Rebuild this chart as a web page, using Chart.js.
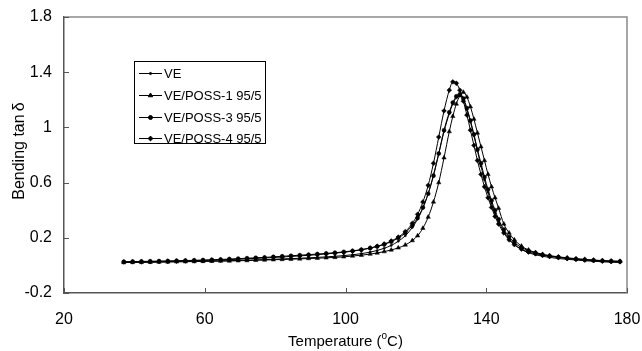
<!DOCTYPE html>
<html>
<head>
<meta charset="utf-8">
<script src="https://cdn.jsdelivr.net/npm/chart.js@4/dist/chart.umd.min.js"></script>
<style>
html,body{margin:0;padding:0;background:#fff;}
#wrap{position:relative;width:642px;height:351px;}
</style>
</head>
<body>
<div id="wrap"><canvas id="c" width="642" height="351"></canvas></div>
<script>
// ---- data ----
const temps = [37,39.5,42,44.5,47,49.5,52,54.5,57,59.5,62,64.5,67,69.5,72,74.5,77,79.5,82,84.5,87,89.5,92,94.5,97,99.5,102,104.5,107,109,111,113,115,117,119,120.5,122,123.5,125,126.5,128,129.5,130.5,131.5,132.5,133.5,134.5,135.5,136.5,137.5,138.5,139.5,140.5,141.5,142.5,143.5,145,146.5,148,150,152,154,156,158,160.5,163,165.5,168,170.5,173,175.5,178];

const seriesNames = ["VE","VE/POSS-1 95/5","VE/POSS-3 95/5","VE/POSS-4 95/5"];

const veVals = [.022,.023,.023,.024,.025,.026,.027,.028,.029,.030,.031,.033,.034,.036,.038,.040,.042,.044,.047,.049,.052,.055,.058,.062,.066,.071,.077,.085,.096,.108,.124,.145,.175,.215,.275,.335,.415,.52,.655,.81,.97,1.10,1.17,1.215,1.23,1.20,1.13,1.04,.94,.83,.72,.62,.53,.45,.38,.32,.245,.19,.15,.115,.092,.077,.066,.058,.050,.044,.039,.034,.030,.026,.023,.021];

const poss1Vals = [.021,.022,.022,.023,.024,.025,.026,.027,.028,.029,.030,.031,.032,.034,.035,.037,.039,.041,.043,.045,.047,.050,.052,.055,.058,.062,.068,.074,.082,.090,.100,.112,.127,.148,.180,.215,.270,.350,.460,.600,.780,.970,1.08,1.17,1.23,1.255,1.22,1.15,1.06,.96,.86,.76,.66,.57,.49,.415,.30,.235,.185,.14,.112,.094,.080,.071,.062,.055,.049,.044,.039,.035,.032,.030];

const poss3Vals = [.027,.028,.029,.030,.031,.032,.034,.035,.037,.039,.041,.043,.046,.049,.052,.055,.058,.062,.066,.070,.074,.078,.082,.087,.092,.098,.105,.114,.125,.137,.152,.172,.198,.235,.29,.345,.42,.52,.65,.81,.98,1.11,1.18,1.225,1.24,1.21,1.14,1.05,.95,.84,.74,.64,.55,.47,.40,.335,.26,.205,.165,.13,.107,.09,.078,.068,.060,.052,.046,.041,.037,.034,.031,.029];

const poss4Vals = [.025,.026,.027,.028,.029,.030,.031,.033,.034,.036,.038,.040,.042,.045,.048,.051,.054,.057,.061,.065,.069,.073,.078,.083,.089,.095,.103,.113,.126,.139,.155,.177,.205,.245,.305,.37,.46,.58,.74,.93,1.12,1.27,1.33,1.32,1.27,1.19,1.09,.98,.87,.76,.66,.57,.49,.42,.355,.30,.235,.185,.15,.118,.097,.085,.075,.066,.058,.050,.044,.039,.035,.031,.028,.026];

const xTickVals = [20,60,100,140,180];
const xTickLabels = ["20","60","100","140","180"];
const yTickVals = [-0.2,0.2,0.6,1.0,1.4,1.8];
const yTickLabels = ["-0.2","0.2","0.6","1","1.4","1.8"];

const xTitleMain = "Temperature (";
const xTitleSup = "o";
const xTitleEnd = "C)";
const yTitle = "Bending tan\u2009\u03b4";

// ---- styles ----
const FONT = '"Liberation Sans", Arial, sans-serif';
const TICK_SIZE = 16, XTITLE_SIZE = 15, YTITLE_SIZE = 16, LEG_SIZE = 13;
const markerStyles = [
  {pointStyle:'circle', radius:1.1},
  {pointStyle:'triangle', radius:2.5},
  {pointStyle:'circle', radius:2.0},
  {pointStyle:'rectRot', radius:2.4}
];
const allVals = [veVals, poss1Vals, poss3Vals, poss4Vals];

const datasets = allVals.map((vals, i) => ({
  label: seriesNames[i],
  data: temps.map((t, k) => ({x: t, y: vals[k]})),
  borderColor: '#000',
  backgroundColor: '#000',
  borderWidth: 1,
  pointStyle: markerStyles[i].pointStyle,
  pointRadius: markerStyles[i].radius,
  pointBorderWidth: 0.5,
  pointBorderColor: '#000',
  pointBackgroundColor: '#000',
  cubicInterpolationMode: 'monotone',
  fill: false
}));

const decorPlugin = {
  id: 'decor',
  afterDraw(chart) {
    const ctx = chart.ctx;
    const ca = chart.chartArea;
    const xs = chart.scales.x, ys = chart.scales.y;
    ctx.save();
    // top & right frame
    ctx.strokeStyle = '#8a8a8a';
    ctx.lineWidth = 1.5;
    ctx.beginPath();
    ctx.moveTo(ca.left, ca.top);
    ctx.lineTo(ca.right, ca.top);
    ctx.lineTo(ca.right, ca.bottom);
    ctx.stroke();
    // inward ticks
    ctx.strokeStyle = '#555';
    ctx.lineWidth = 1;
    ctx.beginPath();
    yTickVals.forEach(v => {
      const p = Math.round(ys.getPixelForValue(v)) + 0.5;
      ctx.moveTo(ca.left, p); ctx.lineTo(ca.left + 5, p);
    });
    xTickVals.forEach(v => {
      const p = Math.round(xs.getPixelForValue(v)) + 0.5;
      ctx.moveTo(p, ca.bottom); ctx.lineTo(p, ca.bottom - 5);
    });
    ctx.stroke();

    // axis titles
    ctx.fillStyle = '#000';
    ctx.font = XTITLE_SIZE + 'px ' + FONT;
    ctx.textBaseline = 'alphabetic';
    const w1 = ctx.measureText(xTitleMain).width;
    ctx.font = '10px ' + FONT;
    const w2 = ctx.measureText(xTitleSup).width;
    ctx.font = XTITLE_SIZE + 'px ' + FONT;
    const w3 = ctx.measureText(xTitleEnd).width;
    const cx = (ca.left + ca.right) / 2;
    let x0 = cx - (w1 + w2 + w3) / 2;
    const by = 346;
    ctx.textAlign = 'left';
    ctx.fillText(xTitleMain, x0, by);
    ctx.font = '10px ' + FONT;
    ctx.fillText(xTitleSup, x0 + w1, by - 7);
    ctx.font = XTITLE_SIZE + 'px ' + FONT;
    ctx.fillText(xTitleEnd, x0 + w1 + w2, by);

    ctx.save();
    ctx.translate(24, 151);
    ctx.rotate(-Math.PI / 2);
    ctx.textAlign = 'center';
    ctx.font = YTITLE_SIZE + 'px ' + FONT;
    ctx.fillText(yTitle, 0, 0);
    ctx.restore();

    // legend
    const lx = 134.5, ly = 61.5, lw = 131, lh = 82;
    ctx.fillStyle = '#fff';
    ctx.fillRect(lx, ly, lw, lh);
    ctx.strokeStyle = '#000';
    ctx.lineWidth = 1;
    ctx.strokeRect(lx, ly, lw, lh);
    const rows = [73, 95, 117, 138];
    rows.forEach((ry, i) => {
      ctx.strokeStyle = '#000';
      ctx.lineWidth = 1;
      ctx.beginPath();
      ctx.moveTo(139, ry + 0.5); ctx.lineTo(162, ry + 0.5);
      ctx.stroke();
      ctx.fillStyle = '#000';
      Chart.helpers.drawPoint(ctx, {
        pointStyle: markerStyles[i].pointStyle,
        radius: markerStyles[i].radius,
        borderWidth: 0.5,
        rotation: 0
      }, 150.5, ry + 0.5);
      ctx.fillStyle = '#000';
      ctx.font = LEG_SIZE + 'px ' + FONT;
      ctx.textAlign = 'left';
      ctx.textBaseline = 'middle';
      ctx.fillText(seriesNames[i], 164, ry + 1);
    });
    ctx.restore();
  }
};

new Chart(document.getElementById('c'), {
  type: 'line',
  data: { datasets },
  options: {
    responsive: false,
    animation: false,
    devicePixelRatio: 1,
    layout: { padding: { top: 17, right: 15, left: 0, bottom: 0 } },
    plugins: { legend: { display: false }, tooltip: { enabled: false } },
    scales: {
      x: {
        type: 'linear', min: 20, max: 180,
        afterBuildTicks: s => { s.ticks = xTickVals.map(v => ({value: v})); },
        afterFit: s => { s.height = 58; s.paddingLeft = 0; s.paddingRight = 0; },
        ticks: {
          callback: (v) => xTickLabels[xTickVals.indexOf(v)] ?? '',
          color: '#000', font: { family: FONT, size: TICK_SIZE }, padding: 17, maxRotation: 0
        },
        grid: { drawOnChartArea: false, drawTicks: false },
        border: { color: '#555', width: 1.5 }
      },
      y: {
        type: 'linear', min: -0.2, max: 1.8,
        afterBuildTicks: s => { s.ticks = yTickVals.map(v => ({value: v})); },
        afterFit: s => { s.width = 64; s.paddingTop = 0; s.paddingBottom = 0; },
        ticks: {
          callback: (v) => {
            const i = yTickVals.findIndex(t => Math.abs(t - v) < 1e-9);
            return i >= 0 ? yTickLabels[i] : '';
          },
          color: '#000', font: { family: FONT, size: TICK_SIZE }, padding: 12
        },
        grid: { drawOnChartArea: false, drawTicks: false },
        border: { color: '#555', width: 1.5 }
      }
    }
  },
  plugins: [decorPlugin]
});
</script>
</body>
</html>
